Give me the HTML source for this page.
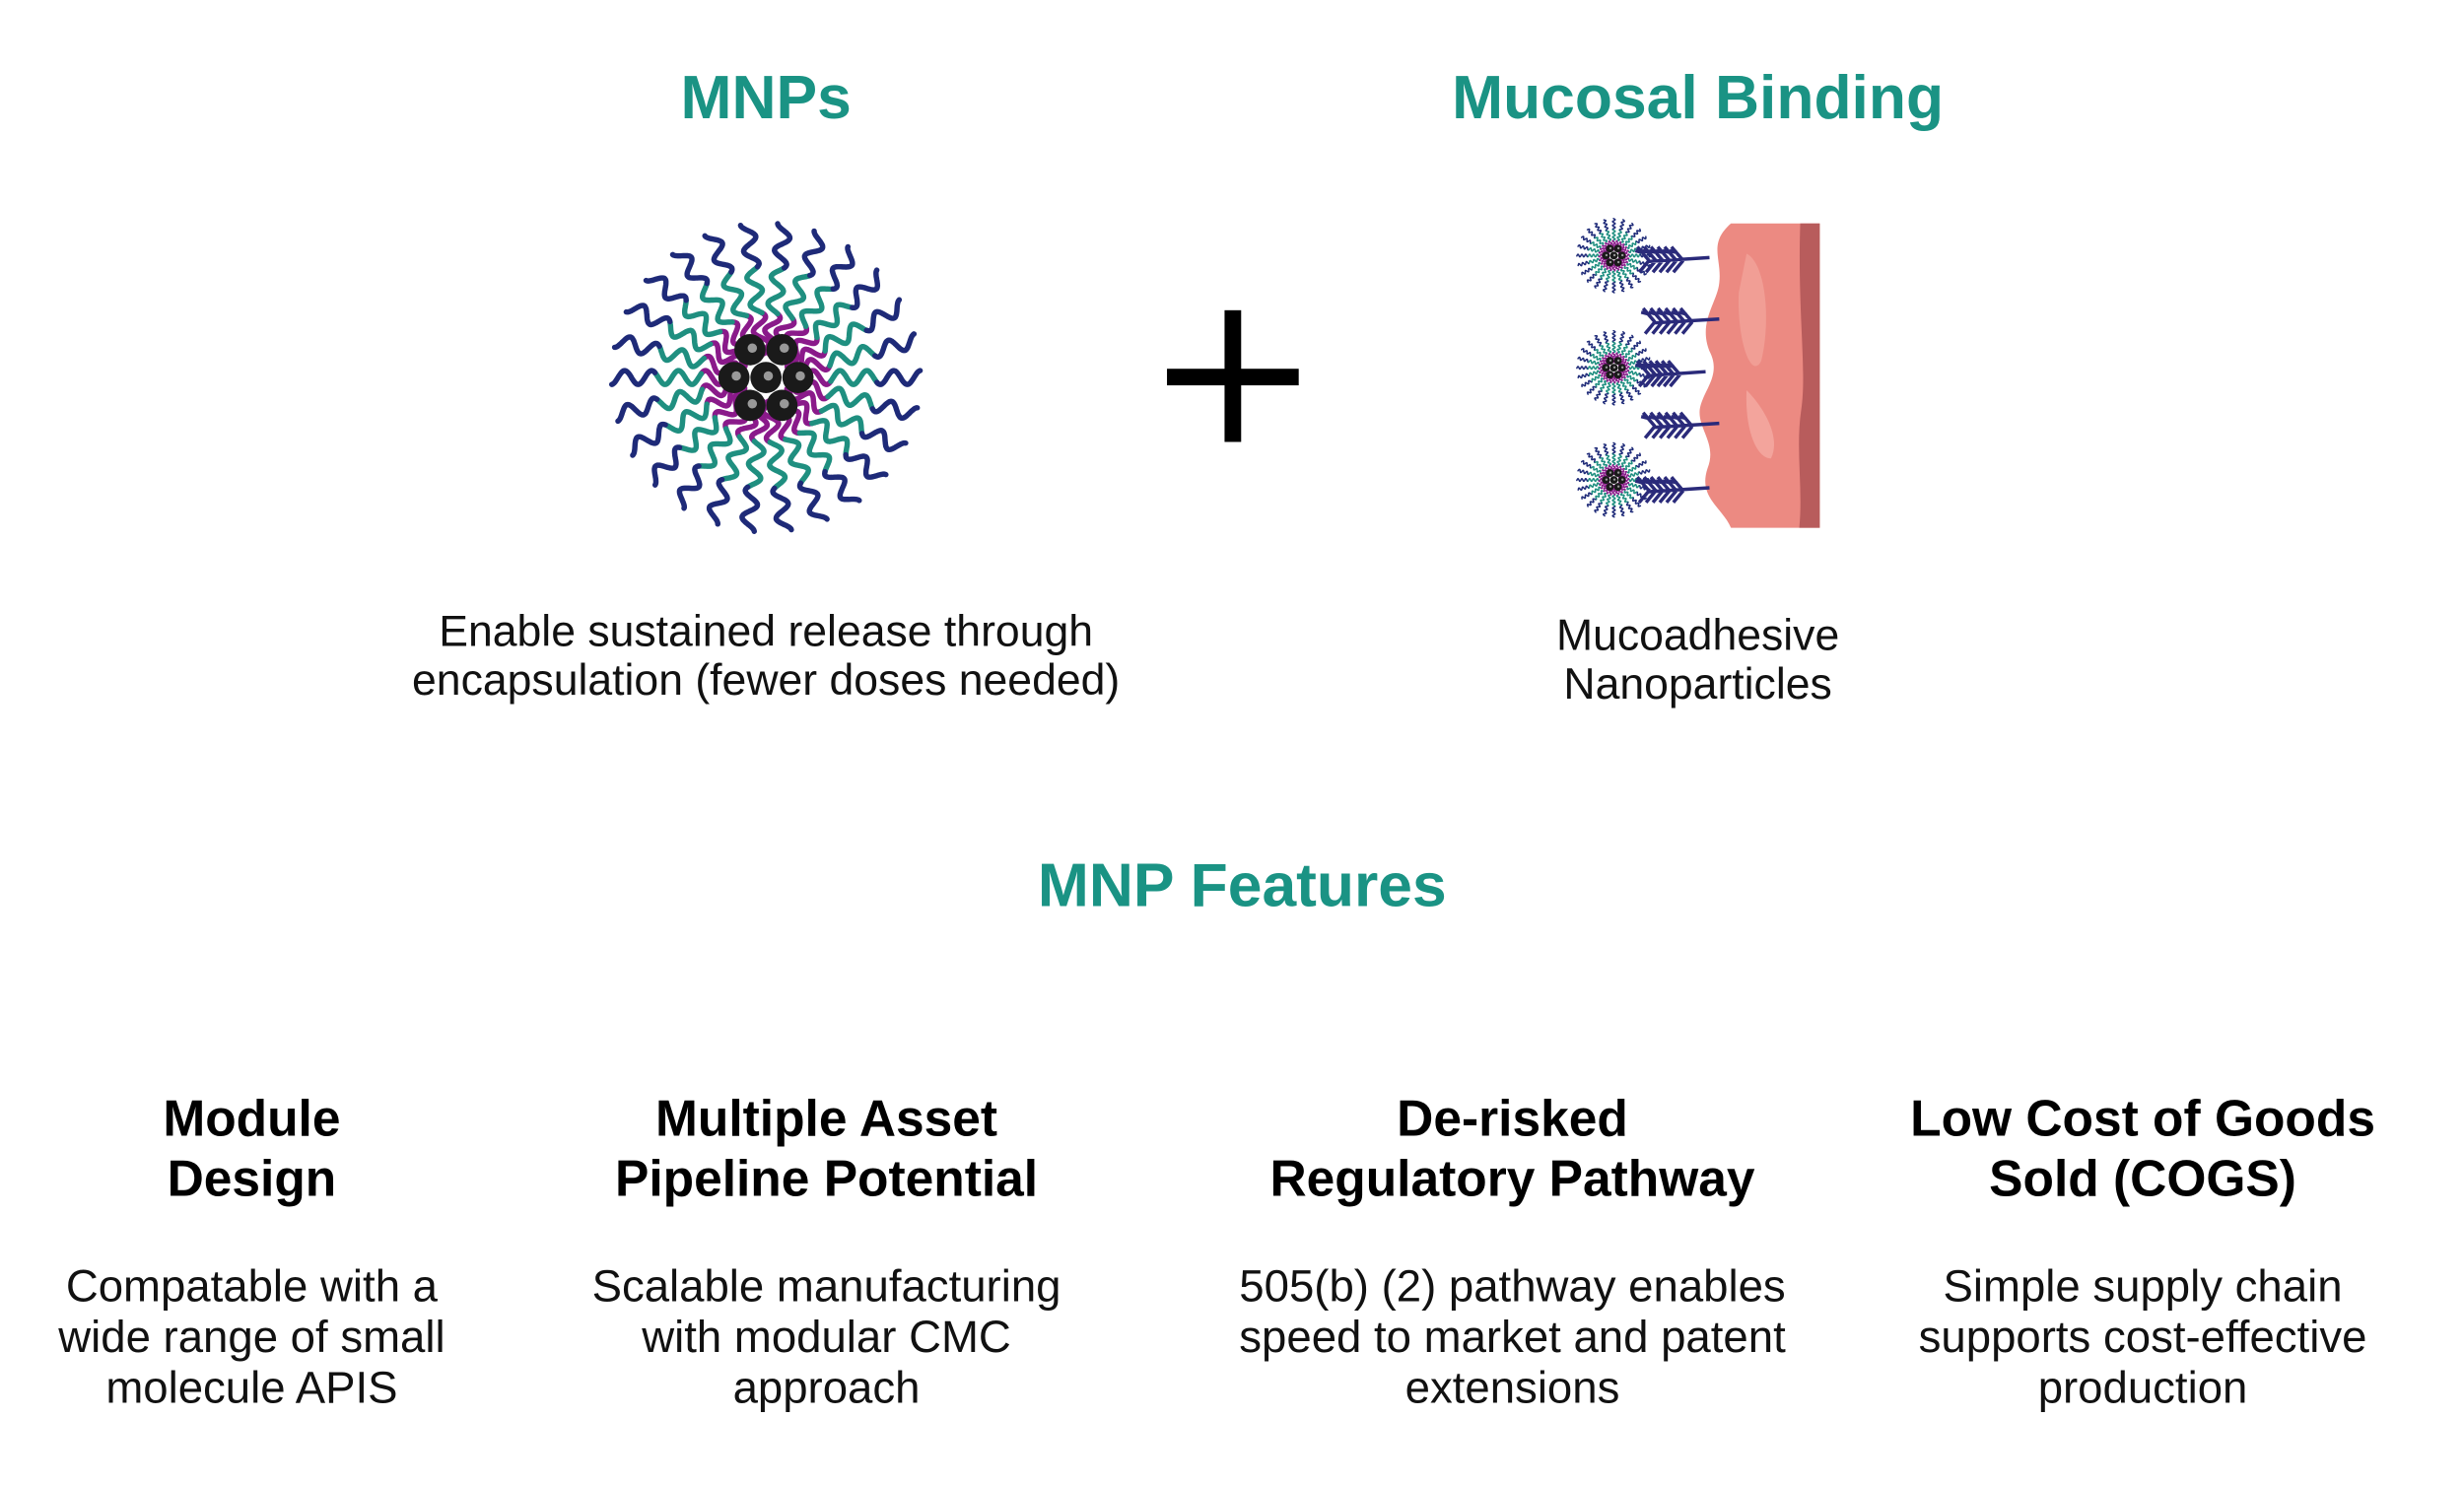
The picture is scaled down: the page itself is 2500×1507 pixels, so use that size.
<!DOCTYPE html>
<html><head><meta charset="utf-8"><style>
body{margin:0;width:2500px;height:1507px;background:#fff;position:relative;overflow:hidden;font-family:"Liberation Sans",sans-serif;}
#w{position:absolute;left:0;top:0;width:2500px;height:1507px;transform:scale(0.99);transform-origin:0 0;}
.t{position:absolute;text-align:center;transform:translateX(-50%);white-space:nowrap;}
.teal{color:#1a9384;font-weight:bold;font-size:63px;}
.body{color:#111;font-size:45px;line-height:50px;}
.h{color:#000;font-weight:bold;font-size:52px;line-height:62px;}
svg{position:absolute;left:0;top:0;}
</style></head><body><div id="w">
<div class="t teal" style="left:785px;top:64px">MNPs</div>
<div class="t teal" style="left:1740px;top:64px">Mucosal Binding</div>
<div class="t body" style="left:785px;top:622px">Enable sustained release through<br>encapsulation (fewer doses needed)</div>
<div class="t body" style="left:1740px;top:626px">Mucoadhesive<br>Nanoparticles</div>
<div class="t teal" style="left:1273px;top:872px">MNP Features</div>

<div class="t h" style="left:258px;top:1116px">Module<br>Design</div>
<div class="t h" style="left:847px;top:1116px">Multiple Asset<br>Pipeline Potential</div>
<div class="t h" style="left:1550px;top:1116px">De-risked<br>Regulatory Pathway</div>
<div class="t h" style="left:2196px;top:1116px">Low Cost of Goods<br>Sold (COGS)</div>

<div class="t body" style="left:258px;top:1292px;line-height:52px;font-size:46px">Compatable with a<br>wide range of small<br>molecule APIS</div>
<div class="t body" style="left:847px;top:1292px;line-height:52px;font-size:46px">Scalable manufacturing<br>with modular CMC<br>approach</div>
<div class="t body" style="left:1550px;top:1292px;line-height:52px;font-size:46px">505(b) (2) pathway enables<br>speed to market and patent<br>extensions</div>
<div class="t body" style="left:2196px;top:1292px;line-height:52px;font-size:46px">Simple supply chain<br>supports cost-effective<br>production</div>

<svg id="s" width="2500" height="1507">
<rect x="1196" y="378" width="135" height="17" fill="#000"/>
<rect x="1255" y="318" width="17" height="135" fill="#000"/>
<path d="M1774,229 L1865,229 L1865,541 L1774,541 C1765,520 1740,510 1750,480 C1760,455 1740,440 1742,420 C1745,400 1765,385 1752,360 C1740,330 1760,310 1762,290 C1765,265 1750,250 1774,229 Z" fill="#ec8a82"/>
<path d="M1845,229 L1865,229 L1865,541 L1844,541 C1848,500 1840,460 1846,420 C1852,380 1842,320 1845,229 Z" fill="#b85c5c"/>
<path d="M1790,260 C1810,270 1815,330 1805,370 C1795,390 1780,350 1782,300 Z" fill="#f3a29a" opacity=".8"/>
<path d="M1790,400 C1810,420 1825,450 1815,470 C1800,470 1788,440 1790,400 Z" fill="#f5aaa2" opacity=".8"/>
</svg>
<script>
var s=document.getElementById('s'),NS='http://www.w3.org/2000/svg';
function micelle(cx,cy,R,n,sw,bead,freq,amp){
 var segs=[[0.15,0.42,'#8a1a8a'],[0.42,0.72,'#1f8f80'],[0.72,1,'#1e2a78']];
 for(var i=0;i<n;i++){var a=i/n*2*Math.PI;
  segs.forEach(function(sg){var p=[];
   for(var t=sg[0];t<=sg[1]+0.001;t+=0.005){var r=t*R,w=Math.sin(t*freq)*R*amp;
    p.push((cx+r*Math.cos(a)-w*Math.sin(a)).toFixed(1)+','+(cy+r*Math.sin(a)+w*Math.cos(a)).toFixed(1));}
   var e=document.createElementNS(NS,'polyline');e.setAttribute('points',p.join(' '));
   e.setAttribute('fill','none');e.setAttribute('stroke',sg[2]);e.setAttribute('stroke-width',sw);e.setAttribute('stroke-linecap','round');s.appendChild(e);});}
 var pts=[[0,0],[1,0],[-1,0],[.5,.87],[-.5,.87],[.5,-.87],[-.5,-.87]];
 pts.forEach(function(q){var c=document.createElementNS(NS,'circle');c.setAttribute('cx',cx+q[0]*bead*2.05);c.setAttribute('cy',cy+q[1]*bead*2.05);c.setAttribute('r',bead);c.setAttribute('fill','#1a1a1a');s.appendChild(c);
  var h=document.createElementNS(NS,'circle');h.setAttribute('cx',cx+q[0]*bead*2.05+bead*.15);h.setAttribute('cy',cy+q[1]*bead*2.05-bead*.1);h.setAttribute('r',bead*0.3);h.setAttribute('fill','#999');s.appendChild(h);});
}
micelle(785,387,158,26,5.5,16,36,0.045);
[[1654,262],[1654,377],[1654,492]].forEach(function(p){micelle(p[0],p[1],38,24,1.5,4,60,0.035);});
function tree(x0,y,x1){var g=document.createElementNS(NS,'path');var d='M'+x1+','+y+' L'+x0+','+(y+4);
 for(var k=0;k<6;k++){var x=x0+k*(x1-x0-20)/6;d+=' M'+x+','+(y+3)+' l-12,-14 M'+x+','+(y+3)+' l-10,12 M'+(x-6)+','+(y-5)+' l-8,-2';}
 g.setAttribute('d',d);g.setAttribute('stroke','#2a2a7a');g.setAttribute('stroke-width',3.5);g.setAttribute('fill','none');s.appendChild(g);}
tree(1690,264,1752);tree(1696,327,1762);tree(1690,381,1748);tree(1696,434,1762);tree(1690,500,1752);
</script>
</div></body></html>
